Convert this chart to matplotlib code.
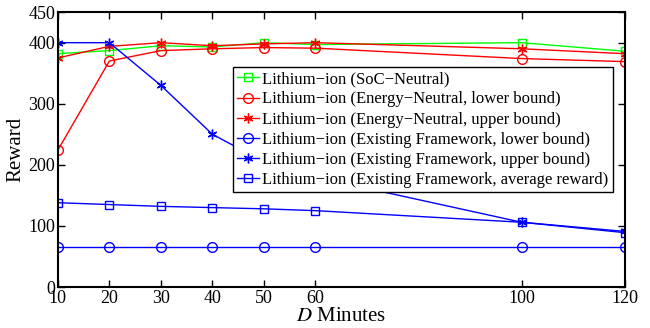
import matplotlib
matplotlib.use('Agg')
import matplotlib.pyplot as plt

plt.rcParams['font.family'] = ['Liberation Serif', 'DejaVu Serif']
plt.rcParams['mathtext.fontset'] = 'stix'

D = [10, 20, 30, 40, 50, 60, 100, 120]

soc_neutral = [382, 387, 395, 393, 400, 397, 400, 386]
energy_lower = [224, 370, 387, 390, 392, 391, 374, 369]
energy_upper = [375, 394, 400, 395, 398, 400, 390, 382]
exist_lower = [66, 66, 66, 66, 66, 66, 66, 66]
exist_upper = [400, 400, 330, 250, 205, 180, 106, 91]
exist_avg = [138, 135, 132, 130, 128, 125, 106, 89]

labels = ['Lithium\u2212ion (SoC\u2212Neutral)',
          'Lithium\u2212ion (Energy\u2212Neutral, lower bound)',
          'Lithium\u2212ion (Energy\u2212Neutral, upper bound)',
          'Lithium\u2212ion (Existing Framework, lower bound)',
          'Lithium\u2212ion (Existing Framework, upper bound)',
          'Lithium\u2212ion (Existing Framework, average reward)']

star = (6, 2, 0)

fig = plt.figure(figsize=(6.5, 3.28), dpi=100)
ax = fig.add_axes([0.089, 0.125, 0.872, 0.838])

ax.plot(D, soc_neutral, color='#00ff00', marker='s', ms=6, mfc='none', lw=1, label=labels[0])
ax.plot(D, energy_lower, color='red', marker='o', ms=7, mfc='none', lw=1, label=labels[1])
ax.plot(D, energy_upper, color='red', marker=star, ms=7, lw=1, label=labels[2])
ax.plot(D, exist_lower, color='blue', marker='o', ms=7, mfc='none', lw=1, label=labels[3])
ax.plot(D, exist_upper, color='blue', marker=star, ms=7, lw=1, label=labels[4])
ax.plot(D, exist_avg, color='blue', marker='s', ms=6, mfc='none', lw=1, label=labels[5])

ax.set_xlim(10, 120)
ax.set_ylim(0, 450)
ax.set_xticks(D)
ax.set_yticks([0, 100, 200, 300, 400, 450])
ax.tick_params(direction='in', top=True, right=True, labelsize=13, length=5, width=1, pad=2)
for s in ax.spines.values():
    s.set_linewidth(1.5)

ax.set_xlabel('$D$ Minutes', fontsize=15, labelpad=0)
ax.set_ylabel('Reward', fontsize=15, labelpad=2)

leg = ax.legend(loc='upper left', bbox_to_anchor=(0.309, 0.8), borderaxespad=0,
                fontsize=12, fancybox=False, framealpha=1, edgecolor='black',
                handlelength=1.3, handletextpad=0.2, labelspacing=0.25, borderpad=0.25)
leg.get_frame().set_linewidth(1)

fig.savefig('out.png', dpi=100)
